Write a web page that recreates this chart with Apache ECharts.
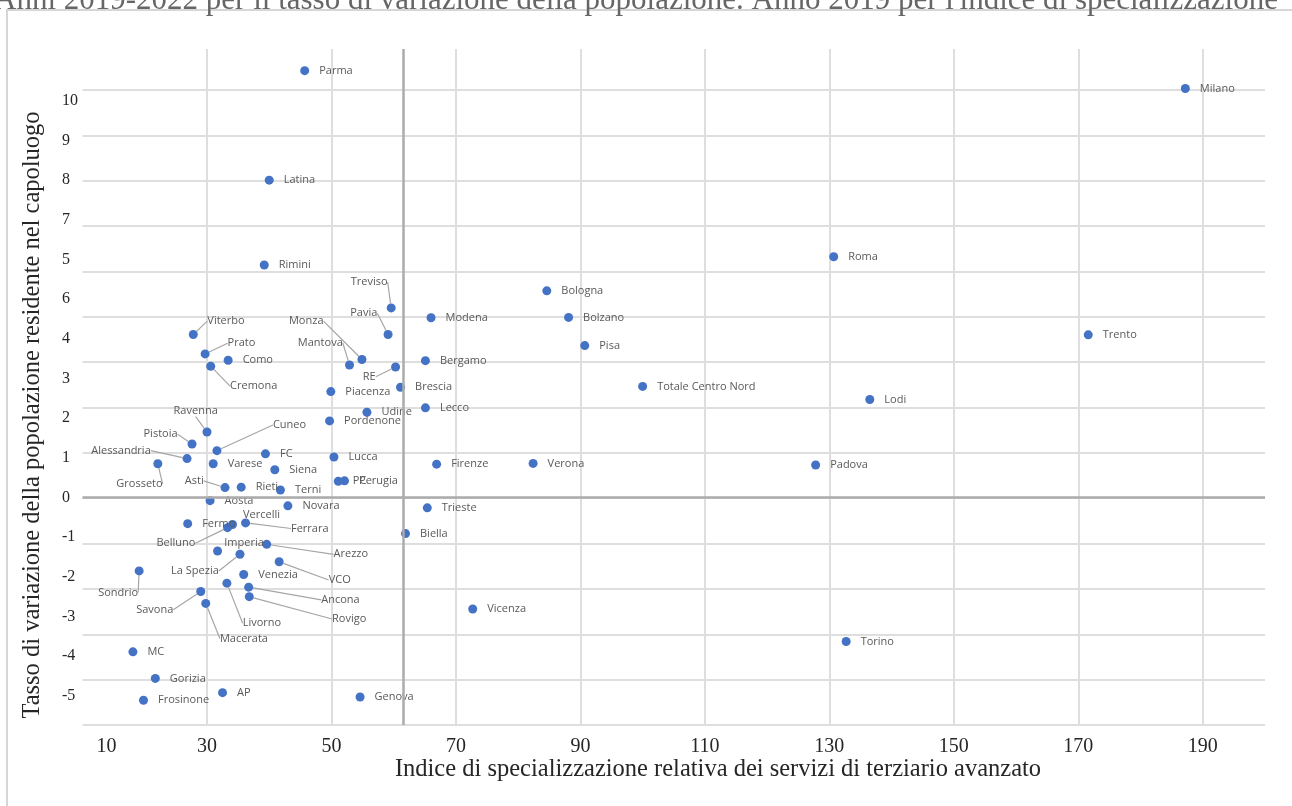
<!DOCTYPE html>
<html><head><meta charset="utf-8">
<script src="https://cdn.jsdelivr.net/npm/echarts@6/dist/echarts.min.js"></script>
<style>html,body{margin:0;padding:0;background:#fff}#c{width:1292px;height:806px}</style>
</head><body><div id="c"></div>
<script>
// ---- data ----
const cityNames = ['Milano','Parma','Latina','Rimini','Roma','Bologna','Treviso','Modena','Bolzano','Pavia',
  'Viterbo','Trento','Pisa','Prato','Como','Cremona','Monza','Mantova','RE','Bergamo',
  'Totale Centro Nord','Brescia','Piacenza','Lodi','Lecco','Udine','Pordenone','Ravenna','Pistoia','Cuneo',
  'FC','Lucca','Alessandria','Grosseto','Varese','Firenze','Verona','Padova','Siena','PC',
  'Perugia','Asti','Rieti','Terni','Aosta','Novara','Trieste','Fermo','Vercelli','Ferrara',
  'Belluno','Biella','Arezzo','Imperia','La Spezia','VCO','Sondrio','Venezia','Livorno','Ancona',
  'Savona','Rovigo','Macerata','Vicenza','Torino','MC','Gorizia','AP','Genova','Frosinone'];
const specIndex = [187.2,45.7,40.0,39.2,130.7,84.6,59.6,66.0,88.1,59.1,
  27.8,171.6,90.7,29.7,33.4,30.6,54.9,52.9,60.3,65.1,
  100.0,61.1,49.9,136.5,65.1,55.7,49.7,30.0,27.6,31.6,
  39.4,50.4,26.8,22.1,31.0,66.9,82.4,127.8,40.9,51.1,
  52.1,32.9,35.5,41.8,30.5,43.0,65.4,26.9,34.1,36.2,
  33.3,61.9,39.6,31.7,35.3,41.6,19.1,35.9,33.2,36.7,
  29.0,36.8,29.8,72.7,132.7,18.1,21.7,32.5,54.6,19.8];
const popChange = [10.31,10.76,8.00,5.86,6.07,5.21,4.78,4.53,4.54,4.11,
  4.11,4.10,3.83,3.62,3.46,3.31,3.48,3.34,3.29,3.45,
  2.80,2.78,2.67,2.47,2.26,2.15,1.93,1.65,1.35,1.18,
  1.10,1.02,0.98,0.85,0.85,0.84,0.86,0.82,0.70,0.41,
  0.42,0.25,0.26,0.19,-0.08,-0.21,-0.26,-0.66,-0.68,-0.64,
  -0.76,-0.91,-1.18,-1.35,-1.43,-1.62,-1.85,-1.94,-2.16,-2.26,
  -2.37,-2.50,-2.67,-2.81,-3.63,-3.89,-4.56,-4.92,-5.03,-5.11];
const yTickValues = [-5,-4,-3,-2,-1,0,1,2,3,4,5,6,7,8,9,10];
const yTickLabels = ['-5','-4','-3','-2','-1','0','1','2','3','4','6','5','7','8','9','10'];
const refIndex = 61.6;   // vertical axis crossing
const titleText = "Anni 2019-2022 per il tasso di variazione della popolazione. Anno 2019 per l'indice di specializzazione";
const xTitle = 'Indice di specializzazione relativa dei servizi di terziario avanzato';
const yTitle = 'Tasso di variazione della popolazione residente nel capoluogo';

// ---- label placement (offset of label centre from point centre, px; leader line flag) ----
const labelMoves = {
  'Treviso':[-22,-25.7,1],'Pavia':[-24.3,-21.3,1],'Viterbo':[32.7,-13.3,1],'Prato':[36.4,-10.7,1],
  'Cremona':[43,20,1],'Monza':[-55.7,-38.3,1],'Mantova':[-29.2,-22.3,1],'RE':[-26.3,9.7,1],
  'Ravenna':[-11.3,-21,1],'Pistoia':[-31.5,-9.7,1],'Cuneo':[72.6,-25.7,1],'Alessandria':[-66,-8,1],
  'Grosseto':[-18.3,20.3,1],'Asti':[-30.8,-6.7,1],'Vercelli':[29,-9.3,0],'Ferrara':[64.2,5.6,1],
  'Belluno':[-51.6,15.6,1],'Imperia':[26.5,-7.7,0],'Arezzo':[84.1,10,1],'La Spezia':[-45,16.7,1],
  'VCO':[60.5,18.3,1],'Livorno':[35,40,1],'Ancona':[91.8,12.7,1],'Rovigo':[99.9,22.3,1],
  'Savona':[-46,18.3,1],'Macerata':[38.2,35,1],'Sondrio':[-21,21.7,1]
};

const serif = 'Liberation Serif';
const chart = echarts.init(document.getElementById('c'), null, {renderer:'canvas'});
chart.setOption({
  animation:false,
  backgroundColor:'#fff',
  grid:{left:82.5, right:27, top:49, bottom:81, containLabel:false, outerBoundsMode:'none'},
  graphic:[
    {type:'rect', silent:true, z:-1, shape:{x:7,y:10,width:1400,height:900}, style:{fill:'none', stroke:'#d6d6d6', lineWidth:2}},
    {type:'text', silent:true, style:{text:titleText, x:636, y:1, textAlign:'center', textVerticalAlign:'middle', font:'31px "Liberation Serif"', fill:'#666'}},
    {type:'text', silent:true, style:{text:xTitle, x:718, y:770, textAlign:'center', textVerticalAlign:'middle', font:'24.5px "Liberation Serif"', fill:'#262626'}},
    {type:'text', silent:true, x:33, y:415, rotation:Math.PI/2, style:{text:yTitle, x:0, y:0, textAlign:'center', textVerticalAlign:'middle', font:'24.5px "Liberation Serif"', fill:'#262626'}}
  ],
  xAxis:{
    type:'value', min:10, max:200, interval:20,
    axisLine:{show:false}, axisTick:{show:false},
    splitLine:{show:true, showMinLine:false, showMaxLine:false, lineStyle:{color:'#dedede', width:2}},
    axisLabel:{
      showMaxLabel:false, margin:12, fontFamily:serif, fontSize:20, color:'#262626',
      formatter:function(v){ return v===10 ? '{s|10}' : String(v); },
      rich:{s:{fontFamily:serif, fontSize:20, color:'#262626', padding:[0,0,0,48]}}
    }
  },
  yAxis:[
    {
      type:'value', min:-5.735, max:11.306, position:'left',
      axisLine:{show:false}, axisTick:{show:false}, splitLine:{show:false},
      axisLabel:{
        customValues:yTickValues, align:'left', margin:20.5,
        fontFamily:serif, fontSize:16, color:'#262626',
        formatter:function(v){ const i = yTickValues.indexOf(Math.round(v)); return i>=0 ? yTickLabels[i] : ''; }
      }
    },
    {
      type:'value', min:-5, max:9.905, interval:1, position:'left',
      axisLine:{show:false}, axisTick:{show:false}, axisLabel:{show:false},
      splitLine:{show:true, showMaxLine:false, lineStyle:{color:'#dedede', width:2}}
    }
  ],
  series:[{
    type:'scatter', xAxisIndex:0, yAxisIndex:0,
    symbol:'circle', symbolSize:9,
    itemStyle:{color:'#4472C4', opacity:1},
    data: cityNames.map(function(n,i){
      const item = {name:n, value:[specIndex[i], popChange[i]]};
      const m = labelMoves[n];
      if (m && m[2]) item.labelLine = {show:true, lineStyle:{color:'#a6a6a6', width:1.2}};
      return item;
    }),
    label:{show:true, position:'right', distance:10, formatter:'{b}', fontFamily:'Open Sans', fontSize:11, color:'#595959'},
    labelLine:{show:false},
    labelLayout:function(p){
      const m = labelMoves[cityNames[p.dataIndex]];
      if (!m) return {};
      const cx = p.rect.x + p.rect.width/2, cy = p.rect.y + p.rect.height/2;
      const lx = p.labelRect.x + p.labelRect.width/2, ly = p.labelRect.y + p.labelRect.height/2;
      return {dx: cx + m[0] - lx, dy: cy + m[1] - ly};
    },
    markLine:{
      silent:true, symbol:'none', animation:false,
      label:{show:false},
      lineStyle:{color:'#ababab', width:2.5, type:'solid'},
      data:[{xAxis:refIndex},{yAxis:0}]
    },
    z:3
  }]
});
</script></body></html>
